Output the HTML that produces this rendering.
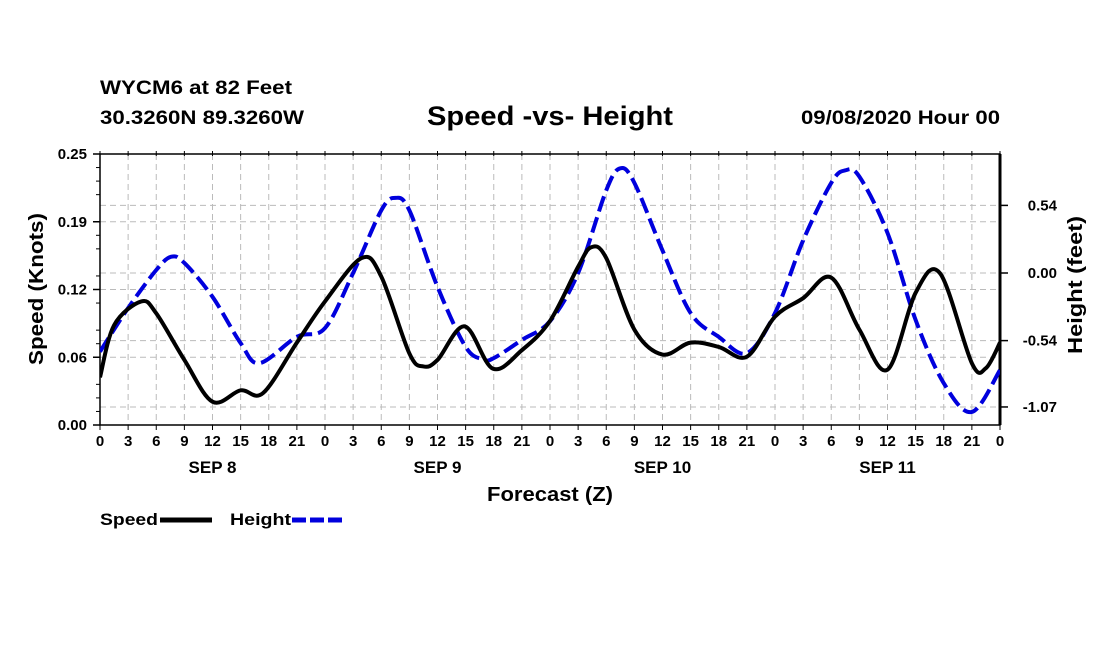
<!DOCTYPE html>
<html><head><meta charset="utf-8"><style>
body{margin:0;background:#fff;}
svg text{font-family:"Liberation Sans",sans-serif;font-weight:bold;fill:#000;}
</style></head><body>
<svg id="chart" width="1100" height="650" viewBox="0 0 1100 650" xmlns="http://www.w3.org/2000/svg">
<text x="100" y="94" font-size="19" textLength="192" lengthAdjust="spacingAndGlyphs">WYCM6 at 82 Feet</text>
<text x="100" y="124" font-size="19" textLength="204" lengthAdjust="spacingAndGlyphs">30.3260N 89.3260W</text>
<text x="427" y="125" font-size="27" textLength="246" lengthAdjust="spacingAndGlyphs">Speed -vs- Height</text>
<text x="801" y="124" font-size="19" textLength="199" lengthAdjust="spacingAndGlyphs">09/08/2020 Hour 00</text>
<g id="grid"></g><g id="axes"></g><g id="series"></g>
<text x="487" y="501" font-size="20" textLength="126" lengthAdjust="spacingAndGlyphs">Forecast (Z)</text>
<text transform="translate(43,365) rotate(-90)" font-size="20" textLength="152" lengthAdjust="spacingAndGlyphs">Speed (Knots)</text>
<text transform="translate(1082,354) rotate(-90)" font-size="20" textLength="138" lengthAdjust="spacingAndGlyphs">Height (feet)</text>
<g>
<text x="100" y="525" font-size="17" textLength="58" lengthAdjust="spacingAndGlyphs">Speed</text>
<line x1="160" y1="520" x2="212" y2="520" stroke="#000" stroke-width="5"/>
<text x="230" y="525" font-size="17" textLength="61" lengthAdjust="spacingAndGlyphs">Height</text>
<line x1="292" y1="520" x2="342" y2="520" stroke="#0000dd" stroke-width="5" stroke-dasharray="14,4"/>
</g>
</svg>
<script>
const speedHours=[0,1.5,4.4,6,9,12,15,17.4,21,24,27.9,30,33,34.5,36,38.9,41.9,45,48,51,52.4,54,57,60,63,66,69,72,75,78,81,84,87,89.6,93,94.5,96];
const speedValues=[0.044,0.092,0.114,0.103,0.060,0.0215,0.032,0.0295,0.076,0.114,0.154,0.137,0.066,0.054,0.060,0.091,0.052,0.069,0.096,0.146,0.164,0.154,0.088,0.065,0.076,0.072,0.063,0.100,0.117,0.136,0.088,0.051,0.122,0.140,0.057,0.0525,0.076];
const heightHours=[0,3,6,7.6,9,12,15,17,21,24,27,30,31.5,33,36,39,40.9,42,45,48,51,54,55.5,57,60,63,66,69,72,75,78,79.5,81,84,87,90,93,96];
const heightValues=[-0.628,-0.28,0.024,0.130,0.08,-0.19,-0.56,-0.72,-0.51,-0.44,0.0,0.50,0.60,0.50,-0.11,-0.59,-0.69,-0.68,-0.535,-0.385,0.0,0.66,0.836,0.72,0.18,-0.32,-0.51,-0.64,-0.32,0.26,0.72,0.82,0.77,0.32,-0.375,-0.88,-1.11,-0.775];
const hourTickLabels=["0","3","6","9","12","15","18","21"];
const dayLabels=["SEP 8","SEP 9","SEP 10","SEP 11"];
const leftTicks=[0,0.0625,0.125,0.1875,0.25];
const leftTickLabels=["0.00","0.06","0.12","0.19","0.25"];
const rightTicks=[0.54,0,-0.54,-1.07];
const rightTickLabels=["0.54","0.00","-0.54","-1.07"];

const L=100,R=1000,T=154,B=425;
const xS=h=>L+h*(R-L)/96;
const yL=v=>B-v*(B-T)/0.25;
const yR=v=>273-v*125.2;
const NS="http://www.w3.org/2000/svg";
function mk(tag,attrs,parent){const e=document.createElementNS(NS,tag);for(const k in attrs)e.setAttribute(k,attrs[k]);parent.appendChild(e);return e;}
const grid=document.getElementById('grid'),axes=document.getElementById('axes'),series=document.getElementById('series');

for(let h=3;h<96;h+=3){const g=mk('line',{x1:xS(h),x2:xS(h),y1:T,y2:B,stroke:'#bbb','stroke-dasharray':'6,4'},grid);

}
leftTicks.forEach((v,i)=>{if(v>0&&v<0.25){const g=mk('line',{x1:L,x2:R,y1:yL(v),y2:yL(v),stroke:'#bbb','stroke-dasharray':'6,4'},grid);

}
const t=mk('line',{x1:L-7,x2:L,y1:yL(v),y2:yL(v),stroke:'#000','stroke-width':1.5},axes);


const tx=mk('text',{x:L-13,y:yL(v)+5,'font-size':15,'text-anchor':'end'},axes);tx.textContent=leftTickLabels[i];

});
for(let k=0;k<=20;k++){if(k%4===0)continue;const y=B-k*(B-T)/20;const m=mk('line',{x1:L-4,x2:L,y1:y,y2:y,stroke:'#000'},axes);

}
rightTicks.forEach((v,i)=>{const g=mk('line',{x1:L,x2:R,y1:yR(v),y2:yR(v),stroke:'#bbb','stroke-dasharray':'6,4'},grid);


const t=mk('line',{x1:R,x2:R+8,y1:yR(v),y2:yR(v),stroke:'#000','stroke-width':1.5},axes);


const tx=mk('text',{x:R+57,y:yR(v)+5,'font-size':15,'text-anchor':'end'},axes);tx.textContent=rightTickLabels[i];

});
for(let h=0;h<=96;h+=3){const t=mk('line',{x1:xS(h),x2:xS(h),y1:B,y2:B+5,stroke:'#000'},axes);


const t2=mk('line',{x1:xS(h),x2:xS(h),y1:T-3,y2:T+2,stroke:'#000'},axes);


const tx=mk('text',{x:xS(h),y:B+21,'font-size':15,'text-anchor':'middle'},axes);tx.textContent=hourTickLabels[(h/3)%8];

}
dayLabels.forEach((d,i)=>{const tx=mk('text',{x:xS(12+24*i),y:473,'font-size':17,'text-anchor':'middle'},axes);tx.textContent=d;

});
const fr=mk('rect',{x:L,y:T,width:R-L,height:B-T,fill:'none',stroke:'#000','stroke-width':1.5},axes);


const rl=mk('line',{x1:R,x2:R,y1:T,y2:B,stroke:'#000','stroke-width':3},axes);



function smooth(pts){let d=`M${pts[0][0]},${pts[0][1]}`;
for(let i=0;i<pts.length-1;i++){const p0=pts[Math.max(0,i-1)],p1=pts[i],p2=pts[i+1],p3=pts[Math.min(pts.length-1,i+2)];
const c1=[p1[0]+(p2[0]-p0[0])/6,p1[1]+(p2[1]-p0[1])/6],c2=[p2[0]-(p3[0]-p1[0])/6,p2[1]-(p3[1]-p1[1])/6];
d+=` C${c1[0]},${c1[1]} ${c2[0]},${c2[1]} ${p2[0]},${p2[1]}`;}return d;}
const clip=mk('clipPath',{id:'pc'},series);mk('rect',{x:L,y:T,width:R-L,height:B-T},clip);
const hp=mk('path',{d:smooth(heightHours.map((h,i)=>[xS(h),yR(heightValues[i])])),fill:'none',stroke:'#0000dd','stroke-width':4,'stroke-dasharray':'16,6','clip-path':'url(#pc)'},series);


const sp=mk('path',{d:smooth(speedHours.map((h,i)=>[xS(h),yL(speedValues[i])])),fill:'none',stroke:'#000','stroke-width':4,'clip-path':'url(#pc)'},series);


</script>
</body></html>
